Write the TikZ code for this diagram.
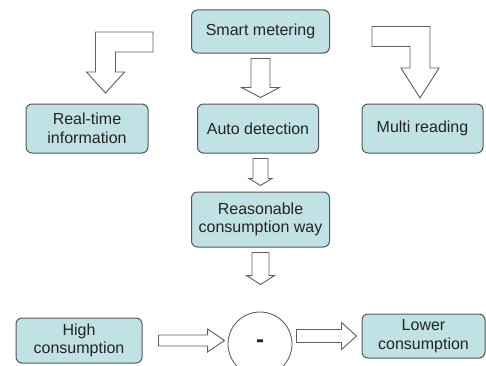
\documentclass[tikz,border=0pt]{standalone}
\usepackage{fontspec}
\setmainfont{Liberation Sans}
\usetikzlibrary{calc}

\definecolor{boxfill}{RGB}{193,226,229}
\definecolor{boxline}{RGB}{85,85,85}
\definecolor{arrline}{RGB}{95,95,95}
\definecolor{txtgray}{RGB}{35,35,35}

\tikzset{
  arrshaft/.store in=\arrshaft, arrhead/.store in=\arrhead, arrlen/.store in=\arrlen,
  gapa/.store in=\arrgapa, gapb/.store in=\arrgapb,
  arrshaft=8pt, arrhead=12pt, arrlen=10pt, gapa=5pt, gapb=6pt,
  box/.style={draw=boxline, fill=boxfill, line width=1pt, rounded corners=6pt,
    inner sep=0pt, align=center, text=txtgray, font=\fontsize{16}{18.5}\selectfont},
  % straight hollow arrow between two points
  fatarrow/.style={draw=arrline, fill=white, line width=0.9pt, to path={
    let \p1=($(\tikztostart)!\arrgapa!(\tikztotarget)$),
        \p2=($(\tikztotarget)!\arrgapb!(\tikztostart)$),
        \p3=($(\p2)!\arrlen!(\p1)$) in
    ($(\p1)!\arrshaft!90:(\p2)$) -- ($(\p3)!\arrshaft!90:(\p2)$)
    -- ($(\p3)!\arrhead!90:(\p2)$) -- (\p2) -- ($(\p3)!\arrhead!-90:(\p2)$)
    -- ($(\p3)!\arrshaft!-90:(\p2)$) -- ($(\p1)!\arrshaft!-90:(\p2)$) -- cycle}},
  % hollow arrow going sideways first, then down
  bentarrow/.style={draw=arrline, fill=white, line width=0.9pt, to path={
    let \p1=(\tikztostart), \p2=(\tikztotarget), \n1={sign(\x2-\x1)} in
    (\x1,\y1+\arrshaft) -- (\x2+\n1*\arrshaft,\y1+\arrshaft)
    -- (\x2+\n1*\arrshaft,\y2+\arrlen) -- (\x2+\n1*\arrhead,\y2+\arrlen)
    -- (\x2,\y2) -- (\x2-\n1*\arrhead,\y2+\arrlen) -- (\x2-\n1*\arrshaft,\y2+\arrlen)
    -- (\x2-\n1*\arrshaft,\y1-\arrshaft) -- (\x1,\y1-\arrshaft) -- cycle}}
}

\begin{document}
\begin{tikzpicture}[x=1pt,y=1pt]
\useasboundingbox (0,0) rectangle (486,365);
\clip (0,0) rectangle (486,365);

% Boxes
\node [box, minimum width=138, minimum height=43] (sm) at (260.5,333.5) {Smart metering};
\node [box, minimum width=122, minimum height=49] (rt) at (87,236.5) {Real-time\\information};
\node [box, minimum width=121, minimum height=49] (ad) at (258,236.5) {Auto detection};
\node [box, minimum width=121, minimum height=49] (mr) at (422.5,236.5) {Multi reading};
\node [box, minimum width=138, minimum height=55] (rc) at (260.5,145.5) {Reasonable\\consumption way};
\node [box, minimum width=126, minimum height=45] (hc) at (79,24.5) {High\\consumption};
\node [box, minimum width=123, minimum height=44] (lc) at (423.5,29) {Lower\\consumption};

% Minus circle
\node [draw=arrline, line width=0.9pt, circle, minimum size=64, inner sep=0pt,
  text=txtgray, font=\bfseries\fontsize{24}{24}\selectfont] (mn) at (260,21) {-};

% Free ends of the bent arrows
\coordinate (lfrom) at (153,323);
\coordinate (lto) at (105.5,272);
\coordinate (rfrom) at (372,328.5);
\coordinate (rto) at (420,267);

% Drawing bent arrows
\draw [bentarrow, arrshaft=10pt, arrhead=19pt, arrlen=21pt] (lfrom) to (lto);
\draw [bentarrow, arrshaft=10pt, arrhead=19pt, arrlen=30pt] (rfrom) to (rto);

% Drawing arrows down the middle
\draw [fatarrow, arrshaft=9.5pt, arrhead=19pt, arrlen=10pt, gapa=5pt, gapb=6pt] (sm.south) to (sm.south |- ad.north);
\draw [fatarrow, arrshaft=7.5pt, arrhead=11.5pt, arrlen=7pt, gapa=5pt, gapb=6pt] (rc.north |- ad.south) to (rc.north);
\draw [fatarrow, arrshaft=8.5pt, arrhead=14pt, arrlen=9pt, gapa=5pt, gapb=27pt] (rc.south) to (rc.south |- mn.north);

% Drawing arrows along the bottom
\draw [fatarrow, arrshaft=5.5pt, arrhead=11.5pt, arrlen=17pt, gapa=16pt, gapb=3pt] (hc.east) to (hc.east -| mn.west);
\draw [fatarrow, arrshaft=6.5pt, arrhead=13.5pt, arrlen=15pt, gapa=4pt, gapb=5pt] (lc.west -| mn.east) to (lc.west);
\end{tikzpicture}
\end{document}
